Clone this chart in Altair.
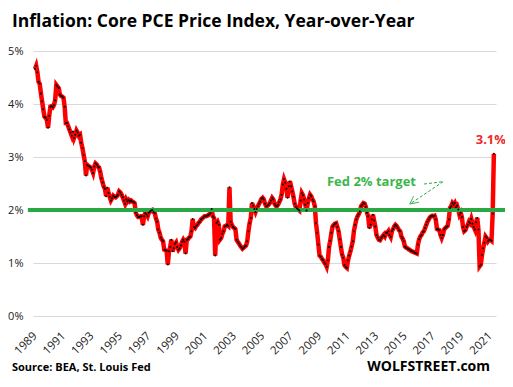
import altair as alt
import pandas as pd

# Core PCE price index, year-over-year % change, monthly
y1989 = [4.66, 4.72, 4.60, 4.42, 4.38, 4.20, 4.05, 3.90, 3.76, 3.74, 3.70, 3.55]
y1990 = [3.78, 3.95, 3.96, 3.94, 3.98, 4.07, 4.36, 4.33, 4.30, 4.18, 4.15, 4.14]
y1991 = [4.12, 3.95, 3.64, 3.64, 3.58, 3.52, 3.46, 3.40, 3.48, 3.36, 3.42, 3.50]
y1992 = [3.46, 3.40, 3.42, 3.27, 3.17, 3.04, 2.92, 2.65, 2.85, 2.83, 2.82, 2.80]
y1993 = [2.76, 2.70, 2.82, 2.88, 2.86, 2.82, 2.80, 2.72, 2.60, 2.52, 2.44, 2.40]
y1994 = [2.26, 2.42, 2.32, 2.25, 2.18, 2.22, 2.27, 2.25, 2.24, 2.26, 2.29, 2.35]
y1995 = [2.33, 2.29, 2.24, 2.18, 2.12, 2.20, 2.16, 2.19, 2.16, 2.18, 2.16, 2.15]
y1996 = [2.13, 1.95, 1.90, 1.87, 1.87, 1.88, 1.88, 1.72, 1.88, 1.94, 1.92, 1.88]
y1997 = [1.95, 1.97, 1.99, 2.00, 1.96, 1.94, 1.84, 1.78, 1.63, 1.57, 1.48, 1.44]
y1998 = [1.41, 1.25, 1.24, 1.23, 0.97, 1.22, 1.30, 1.44, 1.22, 1.28, 1.36, 1.39]
y1999 = [1.30, 1.25, 1.28, 1.33, 1.40, 1.44, 1.40, 1.18, 1.44, 1.45, 1.48, 1.50]
y2000 = [1.60, 1.83, 1.68, 1.66, 1.70, 1.72, 1.76, 1.78, 1.82, 1.84, 1.86, 1.88]
y2001 = [1.88, 1.89, 1.90, 1.92, 1.94, 2.02, 1.88, 1.85, 1.14, 1.75, 1.78, 1.72]
y2002 = [1.44, 1.47, 1.55, 1.60, 1.69, 1.70, 1.72, 1.70, 2.43, 1.78, 1.72, 1.68]
y2003 = [1.66, 1.64, 1.44, 1.40, 1.37, 1.33, 1.30, 1.27, 1.29, 1.31, 1.33, 1.41]
y2004 = [1.60, 1.75, 1.85, 2.13, 2.08, 2.02, 1.96, 2.02, 2.07, 2.12, 2.16, 2.21]
y2005 = [2.23, 2.20, 2.12, 2.07, 2.08, 2.10, 2.13, 2.18, 2.23, 2.20, 2.12, 2.08]
y2006 = [2.07, 2.10, 2.15, 2.20, 2.29, 2.48, 2.58, 2.52, 2.40, 2.23, 2.45, 2.54]
y2007 = [2.45, 2.35, 2.25, 2.12, 2.06, 2.03, 2.01, 1.99, 2.18, 2.32, 2.28, 2.20]
y2008 = [2.10, 1.99, 2.13, 2.22, 2.29, 2.26, 2.20, 2.16, 2.07, 1.75, 1.57, 1.35]
y2009 = [1.14, 1.12, 1.08, 1.05, 1.01, 0.98, 0.93, 1.05, 1.30, 1.42, 1.57, 1.69]
y2010 = [1.72, 1.74, 1.75, 1.68, 1.60, 1.45, 1.30, 1.16, 1.10, 0.96, 0.93, 0.91]
y2011 = [1.05, 1.14, 1.22, 1.31, 1.41, 1.60, 1.72, 1.82, 1.88, 1.92, 1.97, 2.07]
y2012 = [2.10, 2.13, 2.12, 2.06, 1.95, 1.88, 1.66, 1.72, 1.82, 1.91, 1.80, 1.69]
y2013 = [1.53, 1.48, 1.44, 1.43, 1.47, 1.50, 1.53, 1.50, 1.57, 1.57, 1.60, 1.53]
y2014 = [1.49, 1.60, 1.64, 1.69, 1.72, 1.70, 1.66, 1.62, 1.60, 1.50, 1.46, 1.41]
y2015 = [1.31, 1.29, 1.28, 1.26, 1.25, 1.23, 1.22, 1.21, 1.20, 1.19, 1.18, 1.35]
y2016 = [1.45, 1.50, 1.53, 1.58, 1.60, 1.66, 1.72, 1.78, 1.82, 1.86, 1.88, 1.89]
y2017 = [1.88, 1.89, 1.82, 1.64, 1.63, 1.62, 1.53, 1.47, 1.53, 1.63, 1.66, 1.68]
y2018 = [1.70, 1.82, 2.04, 2.07, 2.13, 2.10, 2.13, 2.05, 2.08, 2.01, 1.91, 1.95]
y2019 = [1.87, 1.68, 1.60, 1.62, 1.68, 1.72, 1.78, 1.75, 1.83, 1.74, 1.68, 1.63]
y2020 = [1.77, 1.85, 1.63, 0.94, 0.97, 1.15, 1.28, 1.38, 1.50, 1.47, 1.41, 1.44]
y2021 = [1.44, 1.42, 1.93, 3.06]

series_by_year = [
    (1989, y1989), (1990, y1990), (1991, y1991), (1992, y1992), (1993, y1993),
    (1994, y1994), (1995, y1995), (1996, y1996), (1997, y1997), (1998, y1998),
    (1999, y1999), (2000, y2000), (2001, y2001), (2002, y2002), (2003, y2003),
    (2004, y2004), (2005, y2005), (2006, y2006), (2007, y2007), (2008, y2008),
    (2009, y2009), (2010, y2010), (2011, y2011), (2012, y2012), (2013, y2013),
    (2014, y2014), (2015, y2015), (2016, y2016), (2017, y2017), (2018, y2018),
    (2019, y2019), (2020, y2020), (2021, y2021),
]

year_ticks = list(range(1989, 2022, 2))
pct_ticks = [0, 1, 2, 3, 4, 5]
fed_target = 2.0
title_text = "Inflation: Core PCE Price Index, Year-over-Year"
source_text = "Source: BEA, St. Louis Fed"
brand_text = "WOLFSTREET.com"
target_label = "Fed 2% target"
last_label = "3.1%"

rows = []
for yr, vals in series_by_year:
    for m, v in enumerate(vals):
        rows.append({"t": yr + m / 12.0, "v": v})
df = pd.DataFrame(rows)

FONT = "Open Sans"
RED = "#ff0000"
GREEN_LINE = "#2aa845"
GREEN_TEXT = "#3cb54a"

xscale = alt.Scale(domain=[1988.86, 2021.4], nice=False, zero=False)
yscale = alt.Scale(domain=[0, 5], nice=False)

x_axis = alt.Axis(
    values=year_ticks, format="d", labelAngle=-45, labelAlign="right",
    labelBaseline="middle", domain=False, ticks=False, grid=False,
    labelPadding=18, title=None, labelFont=FONT, labelFontSize=11.5,
    labelColor="#222", labelFlush=False, labelOverlap=False, labelBound=False)
y_axis = alt.Axis(
    values=pct_ticks, labelExpr="datum.value + '%'", domain=False, ticks=False,
    grid=True, gridColor="#d9d9d9", gridWidth=1, labelPadding=10, title=None,
    labelFont=FONT, labelFontSize=11, labelColor="#222", labelOverlap=False)


def X(field):
    return alt.X(field, scale=xscale, axis=x_axis)


def Y(field):
    return alt.Y(field, scale=yscale, axis=y_axis)


base = alt.Chart(df)

line = base.mark_line(color=RED, strokeWidth=4.5).encode(x=X("t:Q"), y=Y("v:Q"))
dots = base.mark_circle(color="black", size=4, opacity=1).encode(x=X("t:Q"), y=Y("v:Q"))

target_df = pd.DataFrame({"x": [1988.5], "x2": [2022.05], "y": [fed_target]})
target = alt.Chart(target_df).mark_rule(color=GREEN_LINE, strokeWidth=4, clip=False).encode(
    x=X("x:Q"), x2="x2:Q", y=Y("y:Q"))

target_txt_df = pd.DataFrame({"x": [2009.52], "y": [2.535], "label": [target_label]})
target_txt = alt.Chart(target_txt_df).mark_text(
    align="left", baseline="middle", font=FONT, fontSize=13, fontWeight="bold",
    color=GREEN_TEXT).encode(x=X("x:Q"), y=Y("y:Q"), text="label:N")

arrow_df = pd.DataFrame({
    "x": [2016.34, 2017.69, 2015.35, 2015.35],
    "y": [2.49, 2.535, 2.113, 2.113],
    "x2": [2017.69, 2015.35, 2015.60, 2015.99],
    "y2": [2.535, 2.113, 2.26, 2.147],
    "dash": ["d", "d", "s", "s"],
})
arrow = alt.Chart(arrow_df).mark_rule(color=GREEN_LINE, strokeWidth=1).encode(
    x=X("x:Q"), y=Y("y:Q"), x2="x2:Q", y2="y2:Q",
    strokeDash=alt.StrokeDash("dash:N", scale=alt.Scale(domain=["d", "s"], range=[[3, 2], [1, 0]]), legend=None))

last_df = pd.DataFrame({"x": [2021 + 3 / 12.0], "y": [y2021[-1]], "label": [last_label]})
last_txt = alt.Chart(last_df).mark_text(
    align="center", baseline="bottom", dy=-7, dx=-3, font=FONT, fontSize=13, fontWeight="bold",
    color="#f02a2a", clip=False).encode(x=X("x:Q"), y=Y("y:Q"), text="label:N")

title = alt.Chart(pd.DataFrame({"label": [title_text]})).mark_text(
    align="left", baseline="alphabetic", font=FONT, fontSize=17.5, fontWeight="bold",
    color="black").encode(x=alt.value(-21), y=alt.value(-24), text="label:N")

source = alt.Chart(pd.DataFrame({"label": [source_text]})).mark_text(
    align="left", baseline="alphabetic", font=FONT, fontSize=11, fontWeight="bold",
    color="black").encode(x=alt.value(-21), y=alt.value(320), text="label:N")

brand = alt.Chart(pd.DataFrame({"label": [brand_text]})).mark_text(
    align="right", baseline="alphabetic", font=FONT, fontSize=14, fontWeight="bold",
    color="black").encode(x=alt.value(457), y=alt.value(320), text="label:N")

chart = alt.layer(line, target, dots, target_txt, arrow, last_txt, title, source, brand).properties(
    width=463, height=265,
    autosize=alt.AutoSizeParams(type="none"),
    padding={"left": 25, "top": 43, "right": 9, "bottom": 60},
    background="white",
).configure_view(stroke=None)

chart.save("out.html", embed_options={"renderer": "svg", "actions": False})
